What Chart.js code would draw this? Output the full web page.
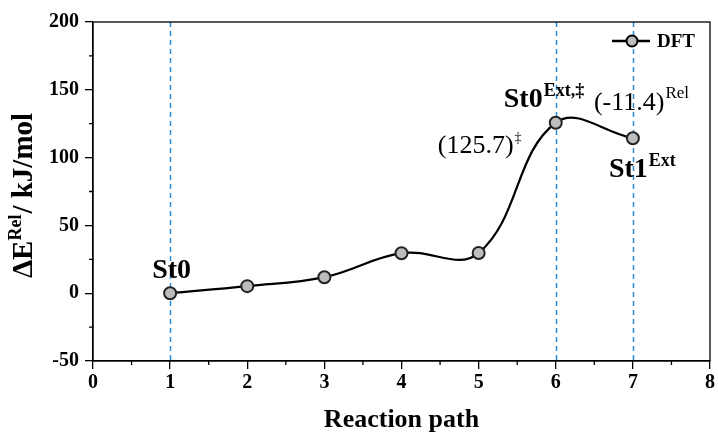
<!DOCTYPE html>
<html>
<head>
<meta charset="utf-8">
<script src="https://cdn.jsdelivr.net/npm/chart.js@4.4.1/dist/chart.umd.min.js"></script>
<style>
  html, body { margin: 0; padding: 0; background: #fff; }
  #wrap { width: 718px; height: 434px; position: relative; }
</style>
</head>
<body>
<div id="wrap"><canvas id="energyChart" width="718" height="434"></canvas></div>
<script>
const pathSteps = [1, 2, 3, 4, 5, 6, 7];
const dftEnergy = [0, 5.2, 11.8, 29.5, 29.6, 125.7, 114.3];
const xTickValues = [0, 1, 2, 3, 4, 5, 6, 7, 8];
const yTickValues = [-50, 0, 50, 100, 150, 200];
const markedSteps = [1, 6, 7];

const serif = '"Liberation Serif", "Times New Roman", serif';

// text with a superscript part
const drawSup = (ctx, base, sup, x, y, baseFont, supFont, rise) => {
    ctx.font = baseFont;
    ctx.fillText(base, x, y);
    const w = ctx.measureText(base).width;
    ctx.font = supFont;
    ctx.fillText(sup, x + w + 1, y - rise);
};

const decorPlugin = {
    id: 'decor',
    beforeDatasetsDraw(chart) {
        const { ctx, chartArea, scales } = chart;
        const xs = scales.x;
        ctx.save();
        // dashed guides
        ctx.strokeStyle = '#2b8bd6';
        ctx.lineWidth = 1.5;
        ctx.setLineDash([5, 4]);
        markedSteps.forEach(v => {
            const px = Math.round(xs.getPixelForValue(v)) + 0.5;
            ctx.beginPath();
            ctx.moveTo(px, chartArea.top);
            ctx.lineTo(px, chartArea.bottom);
            ctx.stroke();
        });
        ctx.restore();
    },
    afterDraw(chart) {
        const { ctx, chartArea, scales } = chart;
        const xs = scales.x, ys = scales.y;
        ctx.save();
        // frame
        ctx.strokeStyle = '#000';
        ctx.lineWidth = 1.3;
        ctx.strokeRect(chartArea.left, chartArea.top, chartArea.right - chartArea.left, chartArea.bottom - chartArea.top);

        // minor ticks
        ctx.beginPath();
        for (let v = 0.5; v < 8; v += 1) {
            const px = xs.getPixelForValue(v);
            ctx.moveTo(px, chartArea.bottom);
            ctx.lineTo(px, chartArea.bottom + 4);
        }
        for (let v = -25; v < 200; v += 50) {
            const py = ys.getPixelForValue(v);
            ctx.moveTo(chartArea.left, py);
            ctx.lineTo(chartArea.left - 4, py);
        }
        ctx.stroke();

        // annotations
        ctx.fillStyle = '#000';
        ctx.textBaseline = 'alphabetic';
        ctx.textAlign = 'left';
        const p = (i) => ({ x: xs.getPixelForValue(pathSteps[i]), y: ys.getPixelForValue(dftEnergy[i]) });
        let a = p(0);
        ctx.font = 'bold 28px ' + serif;
        ctx.fillText('St0', a.x - 18, a.y - 15);

        a = p(5);
        drawSup(ctx, 'St0', 'Ext,\u2021', a.x - 52, a.y - 16, 'bold 28px ' + serif, 'bold 18px ' + serif, 11);
        drawSup(ctx, '(125.7)', '\u2021', a.x - 118, a.y + 30, '26px ' + serif, '14px ' + serif, 11);

        a = p(6);
        drawSup(ctx, '(-11.4)', 'Rel', a.x - 39, a.y - 28, '26px ' + serif, '17px ' + serif, 12);
        drawSup(ctx, 'St1', 'Ext', a.x - 24, a.y + 39, 'bold 28px ' + serif, 'bold 18px ' + serif, 11);

        // legend
        const ly = chartArea.top + 19;
        const lx = chartArea.right - 98;
        ctx.strokeStyle = '#000';
        ctx.lineWidth = 2.5;
        ctx.beginPath();
        ctx.moveTo(lx, ly);
        ctx.lineTo(lx + 38, ly);
        ctx.stroke();
        ctx.fillStyle = '#bdbdbd';
        ctx.lineWidth = 2;
        ctx.beginPath();
        ctx.arc(lx + 20, ly, 5.5, 0, Math.PI * 2);
        ctx.fill();
        ctx.stroke();
        ctx.fillStyle = '#000';
        ctx.font = 'bold 19px ' + serif;
        ctx.textBaseline = 'middle';
        ctx.fillText('DFT', lx + 45, ly + 1);

        // y title
        ctx.translate(25, (chartArea.top + chartArea.bottom) / 2 + 4);
        ctx.rotate(-Math.PI / 2);
        ctx.textBaseline = 'middle';
        const f1 = 'bold 29px ' + serif, f2 = 'bold 18px ' + serif;
        ctx.font = f1;
        const w1 = ctx.measureText('\u0394E').width;
        ctx.font = f2;
        const w2 = ctx.measureText('Rel').width;
        ctx.font = f1;
        const w3 = ctx.measureText('/ kJ/mol').width;
        let sx = -(w1 + w2 + w3 + 1) / 2;
        ctx.fillText('\u0394E', sx, 0);
        ctx.font = f2;
        ctx.fillText('Rel', sx + w1, -9);
        ctx.font = f1;
        ctx.fillText('/ kJ/mol', sx + w1 + w2 + 1, 0);
        ctx.restore();
    }
};

new Chart(document.getElementById('energyChart'), {
    type: 'line',
    data: {
        datasets: [{
            label: 'DFT',
            data: pathSteps.map((s, i) => ({ x: s, y: dftEnergy[i] })),
            borderColor: '#000',
            borderWidth: 2.2,
            tension: 0.4,
            pointRadius: 6,
            pointBackgroundColor: '#bdbdbd',
            pointBorderColor: '#222',
            pointBorderWidth: 2,
            clip: false
        }]
    },
    options: {
        responsive: false,
        animation: false,
        layout: { padding: { top: 22, right: 7, left: 0, bottom: 0 } },
        scales: {
            x: {
                type: 'linear',
                min: 0,
                max: 8,
                afterBuildTicks: (s) => { s.ticks = xTickValues.map(v => ({ value: v })); },
                afterFit: (s) => { s.height = 73; },
                grid: { drawOnChartArea: false, drawTicks: true, tickLength: 8, color: '#000', lineWidth: 1.3 },
                border: { color: '#000', width: 1.3 },
                ticks: { color: '#000', font: { family: serif, size: 20, weight: 'bold' }, padding: 2 },
                title: { display: true, text: 'Reaction path', color: '#000', font: { family: serif, size: 26, weight: 'bold' }, padding: { top: 4, bottom: -2 } }
            },
            y: {
                min: -50,
                max: 200,
                afterBuildTicks: (s) => { s.ticks = yTickValues.map(v => ({ value: v })); },
                afterFit: (s) => { s.width = 93; },
                grid: { drawOnChartArea: false, drawTicks: true, tickLength: 8, color: '#000', lineWidth: 1.3 },
                border: { color: '#000', width: 1.3 },
                ticks: { color: '#000', font: { family: serif, size: 20, weight: 'bold' }, padding: 6 }
            }
        },
        plugins: {
            legend: { display: false },
            tooltip: { enabled: false }
        }
    },
    plugins: [decorPlugin]
});
</script>
</body>
</html>
